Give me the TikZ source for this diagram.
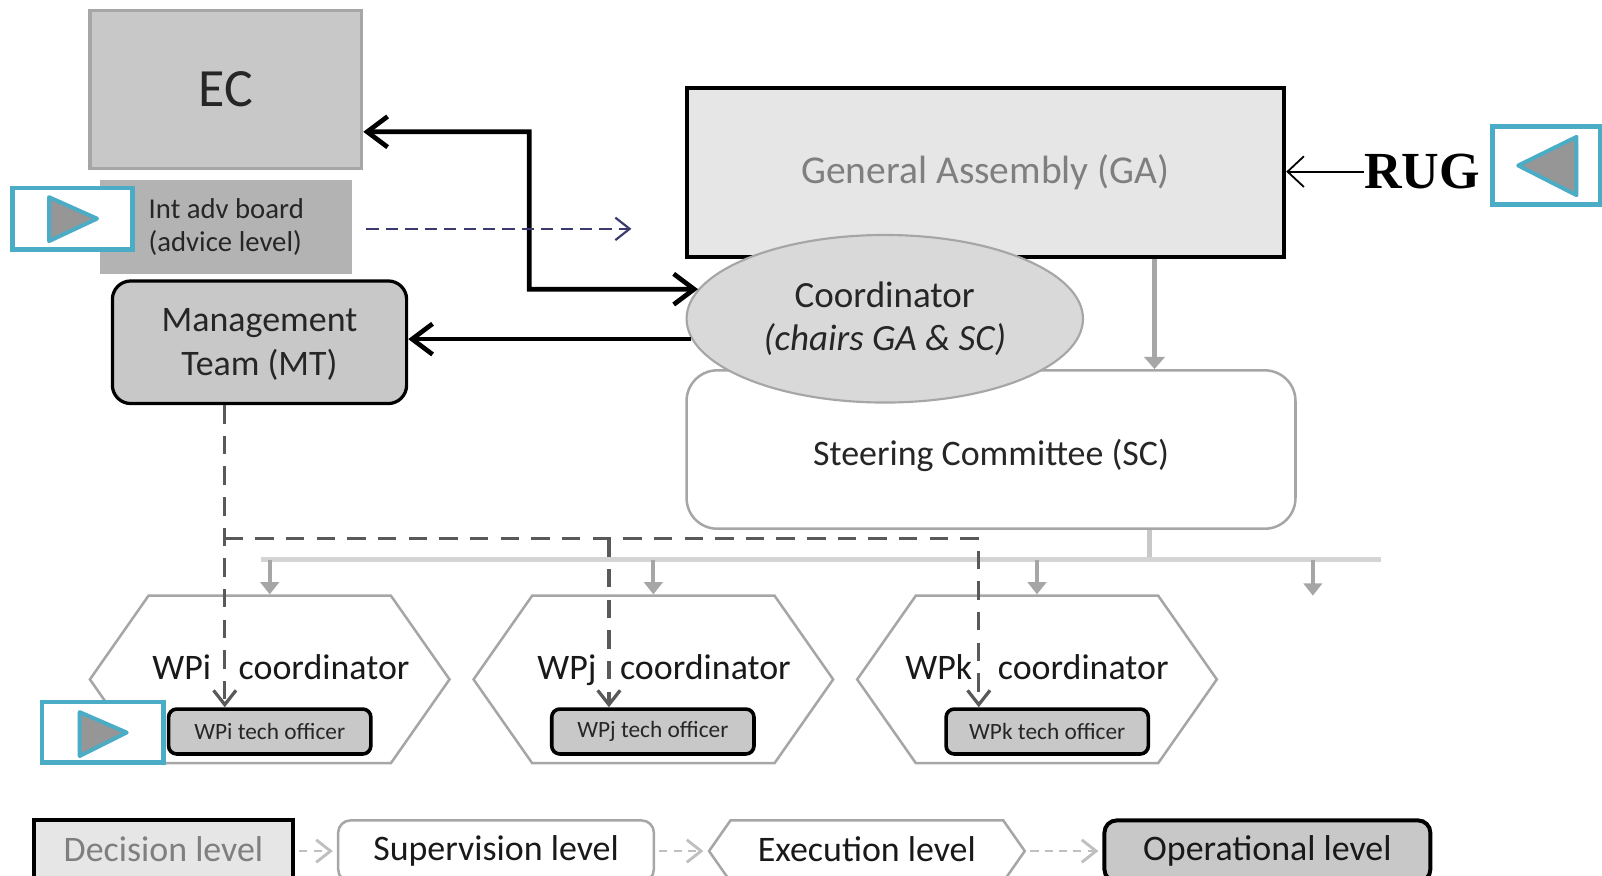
\documentclass[tikz,border=0pt]{standalone}
\usepackage{fontspec}
\setmainfont{Carlito}
\newfontfamily\rugfont{Liberation Serif}
\usetikzlibrary{shapes.geometric,shapes.symbols,arrows.meta}

\definecolor{boxgray}{HTML}{C8C8C8}
\definecolor{advgray}{HTML}{B3B3B3}
\definecolor{linegray}{HTML}{A6A6A6}
\definecolor{buslight}{HTML}{D4D4D4}
\definecolor{lightfill}{HTML}{E6E6E6}
\definecolor{coordfill}{HTML}{D9D9D9}
\definecolor{textdark}{HTML}{262626}
\definecolor{textgray}{HTML}{7F7F7F}
\definecolor{iconblue}{HTML}{4BACC6}
\definecolor{icongray}{HTML}{969696}
\definecolor{advblue}{HTML}{3A3A6E}
\definecolor{dashgray}{HTML}{595959}
\definecolor{legendgray}{HTML}{BFBFBF}

\begin{document}
\begin{tikzpicture}[x=0.1mm,y=-0.1mm,
    bigbarb/.tip={Straight Barb[length=2mm,width=3mm]},
    smallbarb/.tip={Straight Barb[length=1.4mm,width=2.2mm]},
    ecbox/.style={draw=linegray,line width=0.9pt,fill=boxgray,minimum width=26.6mm,minimum height=15.5mm,inner sep=0pt,text=textdark,font=\fontsize{15}{18}\selectfont},
    advbox/.style={fill=advgray,minimum width=24.7mm,minimum height=9.2mm,inner sep=0pt,align=left,text=textdark,font=\fontsize{8}{9.1}\selectfont},
    mtbox/.style={draw=black,line width=0.9pt,rounded corners=1.8mm,fill=boxgray,minimum width=28.8mm,minimum height=12mm,inner sep=0pt,align=center,text=textdark,font=\fontsize{10}{11.7}\selectfont},
    gabox/.style={draw=black,line width=1.1pt,fill=lightfill,minimum width=58.5mm,minimum height=16.6mm,inner sep=0pt,text=textgray,font=\fontsize{11}{13}\selectfont},
    scbox/.style={draw=linegray,line width=0.7pt,rounded corners=3mm,fill=white,minimum width=59.6mm,minimum height=15.5mm,inner sep=0pt,text=textdark,font=\fontsize{10}{12}\selectfont},
    coordell/.style={ellipse,draw=linegray,line width=0.6pt,fill=coordfill,minimum width=38.8mm,minimum height=16.4mm,inner sep=0pt,align=center,text=textdark,font=\fontsize{10.3}{12}\selectfont},
    wphex/.style={signal,signal to=west and east,signal pointer angle=110,draw=linegray,line width=0.7pt,fill=white,minimum width=35.2mm,minimum height=16.4mm,inner sep=0pt},
    hextext/.style={anchor=base,inner sep=0pt,text=black!90,font=\fontsize{10}{12}\selectfont},
    techbox/.style={draw=black,line width=1pt,rounded corners=0.8mm,fill=boxgray,minimum width=19.8mm,minimum height=4.4mm,inner sep=0pt,text=textdark,font=\fontsize{6.5}{8}\selectfont},
    iconbox/.style={draw=iconblue,line width=1.3pt,fill=white,inner sep=0pt},
    playtri/.style={draw=iconblue,line width=1.1pt,fill=icongray,line join=round},
    thickarr/.style={line width=1.3pt,black},
    advarr/.style={advblue,line width=0.6pt,dash pattern=on 1.2mm off 0.7mm,-{smallbarb}},
    gadrop/.style={linegray,line width=1.4pt,-{Triangle[length=1.2mm,width=2mm]}},
    busline/.style={buslight,line width=1.4pt},
    busdrop/.style={linegray,line width=1.1pt,-{Triangle[length=1.2mm,width=1.8mm]}},
    mtdash/.style={dashgray,line width=0.9pt,dash pattern=on 1.8mm off 1.2mm,-{smallbarb}},
    rugarr/.style={black,line width=0.5pt,-{Straight Barb[length=1.6mm,width=3mm]}},
    decbox/.style={draw=black,line width=1.1pt,fill=lightfill,minimum width=25.4mm,minimum height=6mm,inner sep=0pt,text=textgray,font=\fontsize{10}{12}\selectfont},
    supbox/.style={draw=linegray,line width=0.7pt,rounded corners=1.2mm,fill=white,minimum width=30.9mm,minimum height=6mm,inner sep=0pt,text=black!90,font=\fontsize{10}{12}\selectfont},
    exhex/.style={signal,signal to=west and east,signal pointer angle=110,draw=linegray,line width=0.7pt,fill=white,minimum width=30.9mm,minimum height=6mm,inner sep=0pt,text=black!90,font=\fontsize{10}{12}\selectfont},
    opbox/.style={draw=black,line width=1.1pt,rounded corners=1.2mm,fill=boxgray,minimum width=31.9mm,minimum height=6mm,inner sep=0pt,text=black!90,font=\fontsize{10}{12}\selectfont},
    legarr/.style={legendgray,line width=0.8pt,dash pattern=on 0.8mm off 0.6mm,shorten <=0.4mm,shorten >=0.4mm,-{smallbarb}}
  ]
  \useasboundingbox (0,0) rectangle (1568,857);

  \node[ecbox] (ec) at (221,87.5) {EC};
  \node[advbox] (iab) at (221.5,222) {Int adv board\\(advice level)};
  \node[mtbox] (mt) at (254,335) {\raisebox{-1.2mm}[0pt][0pt]{\begin{tabular}{@{}c@{}}Management\\[0.2mm]Team (MT)\end{tabular}}};
  \node[gabox] (ga) at (964.5,169) {General Assembly (GA)};
  \node[scbox] (sc) at (970,440) {\raisebox{-1.6mm}[0pt][0pt]{Steering Committee (SC)}};
  \node[coordell] (coord) at (866,312) {Coordinator\\\textit{(chairs GA \& SC)}};

  \node[iconbox,minimum width=11.8mm,minimum height=6mm] (playA) at (71,214) {};
  \draw[playtri] (48,193) -- (48,236) -- (95,214) -- cycle;

  \node[wphex] (wpi) at (264,665) {};
  \node[wphex] (wpj) at (639.5,665) {};
  \node[wphex] (wpk) at (1015,665) {};
  \node[hextext] (wpiT) at (275,665) {WPi\hspace{2.7mm}coordinator};
  \node[hextext] (wpjT) at (650,665) {WPj\hspace{2.3mm}coordinator};
  \node[hextext] (wpkT) at (1015,665) {WPk\hspace{2.5mm}coordinator};
  \node[techbox] (wpito) at (264,716) {WPi tech officer};
  \node[techbox] (wpjto) at (639,716) {WPj tech officer};
  \node[techbox] (wpkto) at (1025,716) {WPk tech officer};

  \node[iconbox,minimum width=11.9mm,minimum height=5.9mm] (playB) at (100.5,716.5) {};
  \draw[playtri] (78,697) -- (78,740) -- (124,717) -- cycle;

  \node[inner sep=0pt,font=\rugfont\bfseries\fontsize{14.5}{16}\selectfont] (rug) at (1392,168) {RUG};
  \node[iconbox,minimum width=10.5mm,minimum height=7.6mm] (playC) at (1513.5,162) {};
  \draw[playtri] (1486,162) -- (1543,134) -- (1543,191) -- cycle;

  \coordinate (ecBend) at (518,129);
  \draw[thickarr,{bigbarb}-{bigbarb}] ([yshift=-4.15mm]ec.east) -- (ecBend) |- (coord.171);
  \draw[thickarr,-{bigbarb}] (coord.186) -- (coord.186 -| mt.east);

  \coordinate (adviceEnd) at (618,224);
  \draw[advarr] ([xshift=1.3mm]iab.east |- adviceEnd) -- (adviceEnd);

  \draw[rugarr] (rug.west) -- (rug.west -| ga.east);

  \coordinate (gaDrop) at (1130,362);
  \draw[gadrop] (gaDrop |- ga.south) -- (gaDrop |- sc.north);

  \coordinate (busL) at (255,548);
  \coordinate (busR) at (1352,548);
  \coordinate (scDrop) at (1125,548);
  \coordinate (busEnd) at (1285,583);
  \draw[boxgray,line width=1.2pt] (scDrop |- sc.south) -- (scDrop);
  \draw[busline] (busL) -- (busR);
  \draw[busdrop] (wpi.north |- busL) -- (wpi.north);
  \draw[busdrop] (wpj.north |- busL) -- (wpj.north);
  \draw[busdrop] (wpk.north |- busL) -- (wpk.north);
  \draw[busdrop] (busEnd |- busL) -- (busEnd);

  \coordinate (mtTurn) at (220,527);
  \coordinate (wpjTurn) at (596,527);
  \coordinate (wpkTurn) at (958,527);
  \draw[mtdash] (mtTurn |- mt.south) -- (mtTurn |- wpito.north);
  \draw[mtdash] (mtTurn) -| (wpkTurn |- wpkto.north);
  \draw[mtdash] (wpjTurn) -- (wpjTurn |- wpjto.north);

  \node[decbox] (dec) at (160,833) {\raisebox{0.3mm}{Decision level}};
  \node[supbox] (sup) at (485.5,833) {\raisebox{0.3mm}{Supervision level}};
  \node[exhex] (exe) at (848.5,833) {\raisebox{0.3mm}{Execution level}};
  \node[opbox] (op) at (1240.5,833) {\raisebox{0.3mm}{Operational level}};
  \draw[legarr] (dec.east) -- (sup.west);
  \draw[legarr] (sup.east) -- (exe.west);
  \draw[legarr] (exe.east) -- (op.west);
\end{tikzpicture}
\end{document}
